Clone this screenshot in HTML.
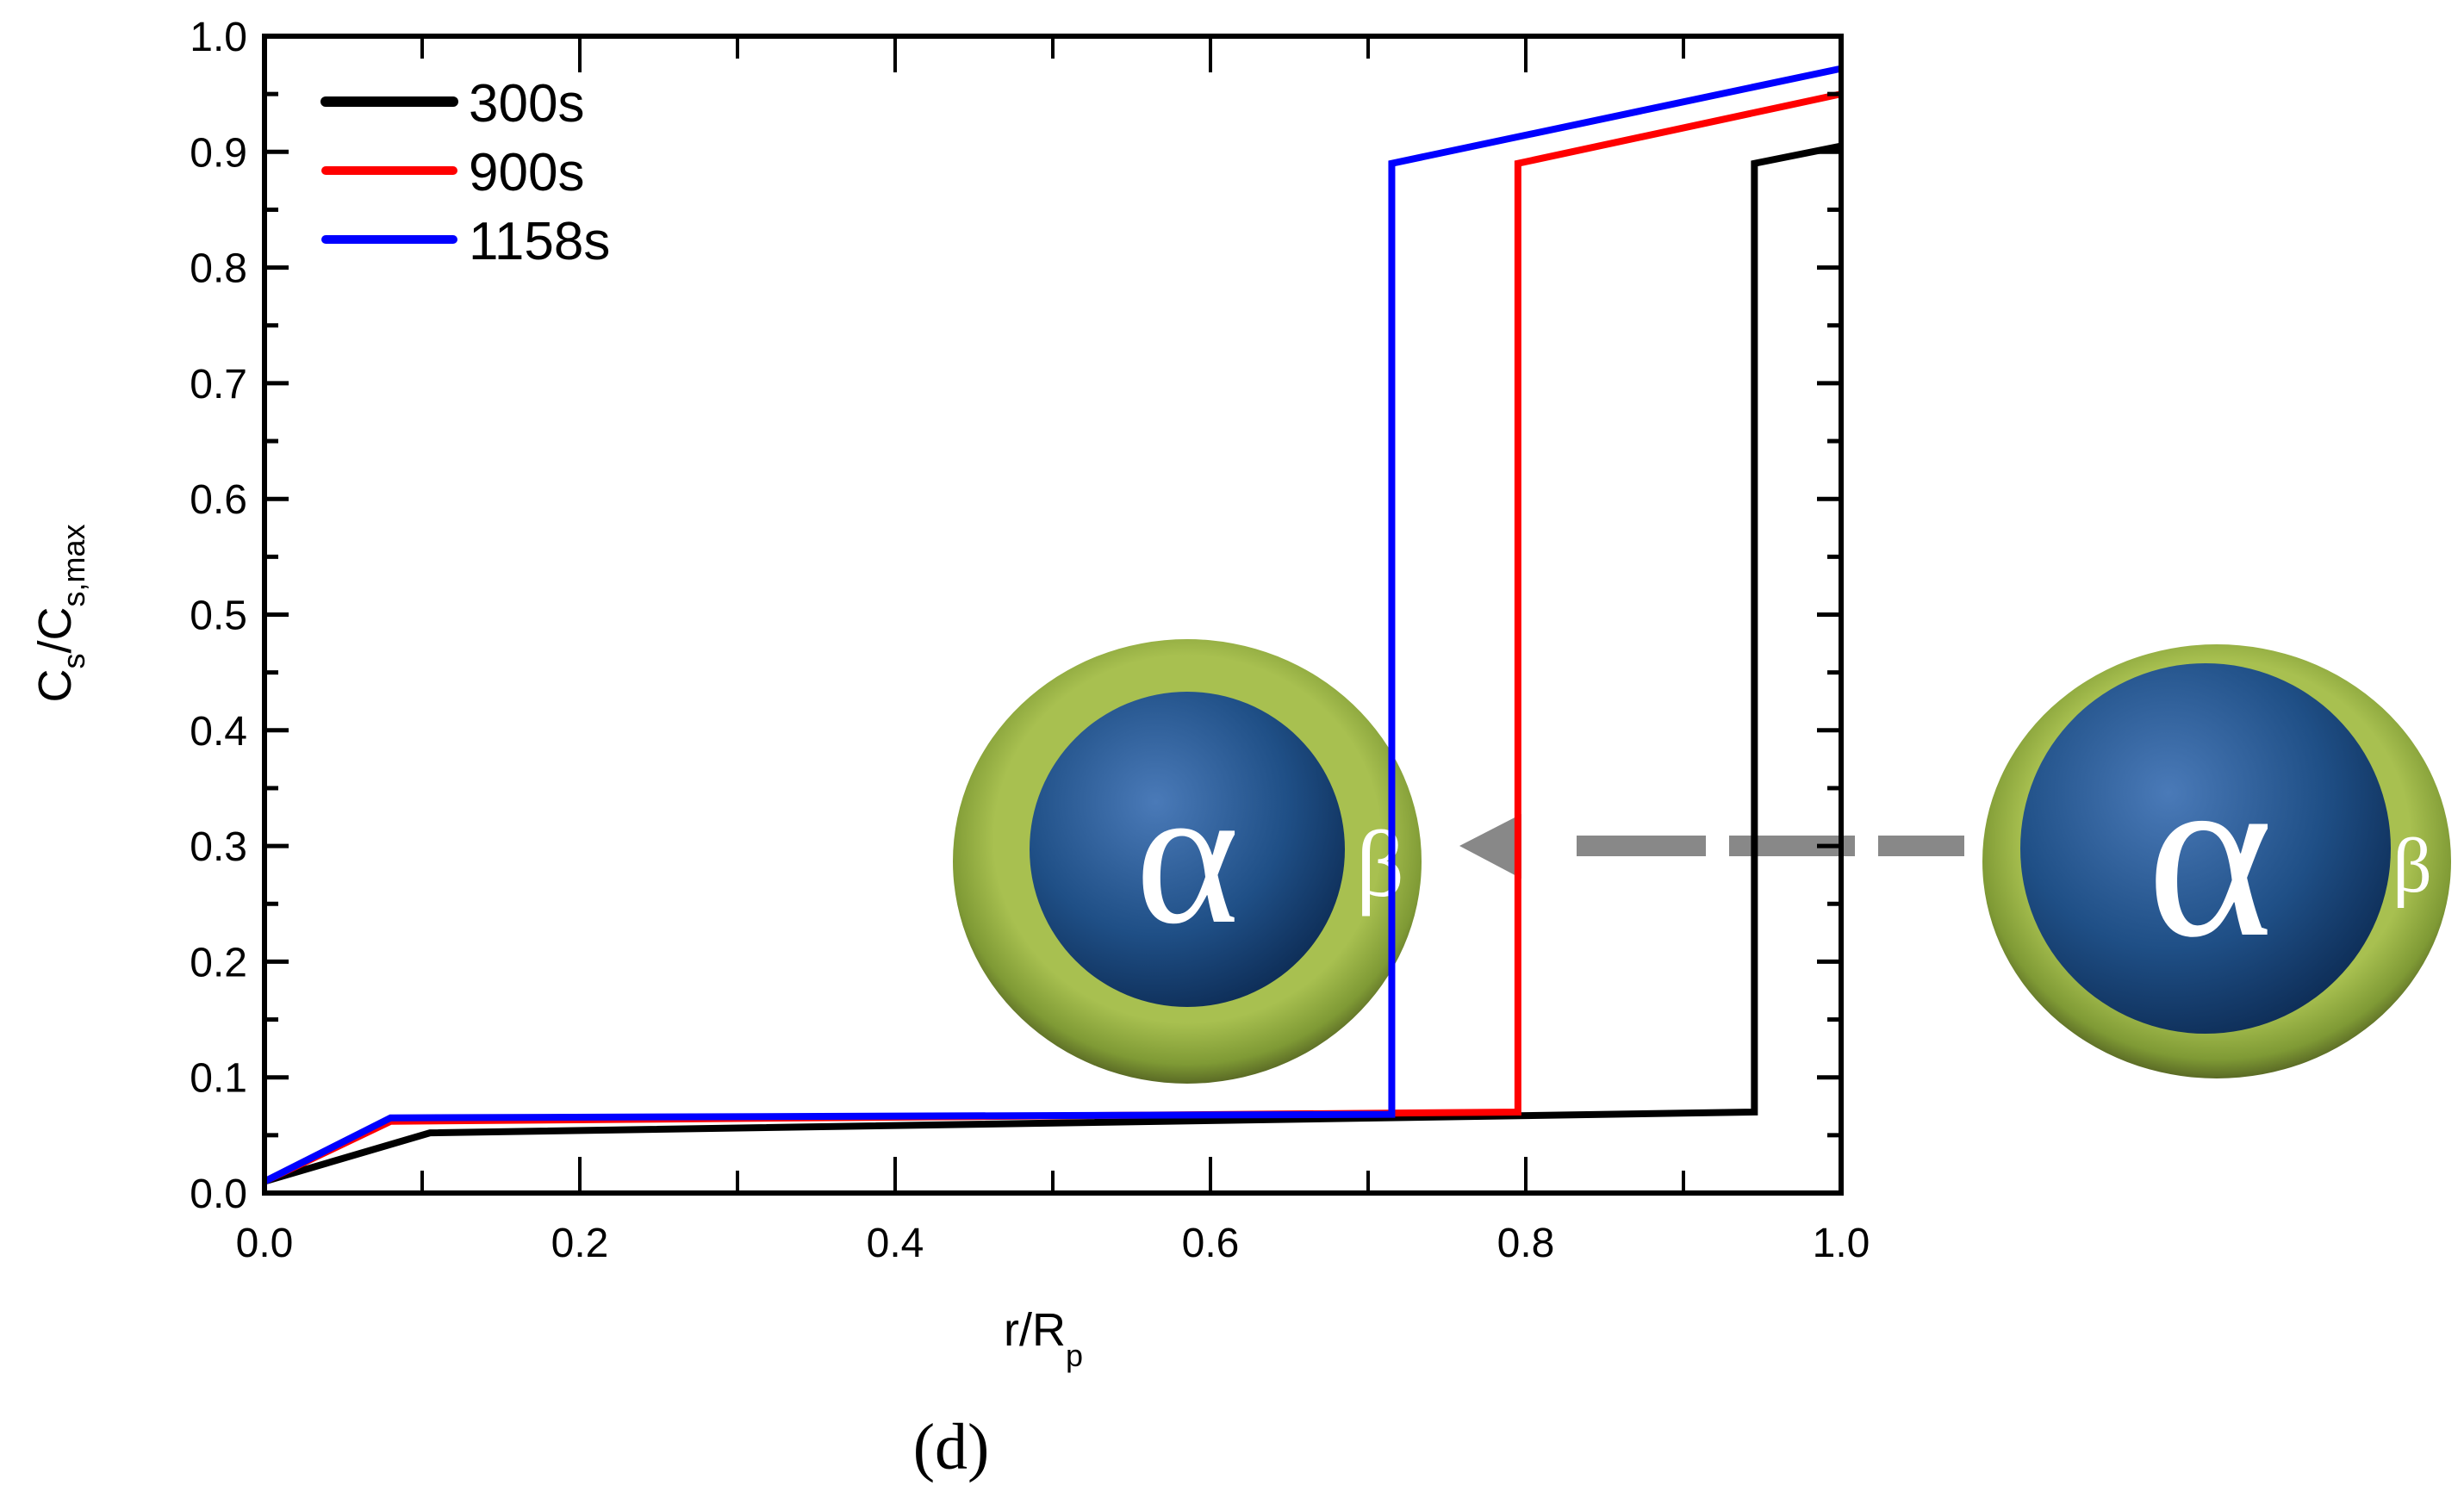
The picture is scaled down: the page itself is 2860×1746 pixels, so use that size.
<!DOCTYPE html>
<html><head><meta charset="utf-8"><style>
html,body{margin:0;padding:0;background:#fff;}
svg{display:block;font-family:"Liberation Sans",sans-serif;}
</style></head><body>
<svg id="chart" width="2860" height="1746" viewBox="0 0 2860 1746" xmlns="http://www.w3.org/2000/svg">
<defs>
<radialGradient id="shell" cx="50%" cy="45%" r="55%">
<stop offset="0.75" stop-color="#a8c050"/><stop offset="0.92" stop-color="#7f9a35"/><stop offset="1" stop-color="#5a6a25"/>
</radialGradient>
<radialGradient id="core" cx="40%" cy="35%" r="70%">
<stop offset="0" stop-color="#4a7ab8"/><stop offset="0.6" stop-color="#1f4f86"/><stop offset="1" stop-color="#0d2c55"/>
</radialGradient>
</defs>
<g id="decor">
<ellipse cx="1378" cy="1000" rx="272" ry="258" fill="url(#shell)"/>
<circle cx="1378" cy="986" r="183" fill="url(#core)"/>
<text x="1378" y="1070" font-family="Liberation Serif,serif" font-size="230" fill="#fff" text-anchor="middle">α</text>
<text x="1602" y="1040" font-family="Liberation Serif,serif" font-size="110" fill="#fff" text-anchor="middle">β</text>
<ellipse cx="2573" cy="1000" rx="272" ry="252" fill="url(#shell)"/>
<circle cx="2560" cy="985" r="215" fill="url(#core)"/>
<text x="2565" y="1085" font-family="Liberation Serif,serif" font-size="280" fill="#fff" text-anchor="middle">α</text>
<text x="2800" y="1035" font-family="Liberation Serif,serif" font-size="90" fill="#fff" text-anchor="middle">β</text>
<polygon points="1694,982 1766,945 1766,1020" fill="#888"/>
<rect x="1830" y="970" width="150" height="24" fill="#888"/>
<rect x="2007" y="970" width="146" height="24" fill="#888"/>
<rect x="2180" y="970" width="100" height="24" fill="#888"/>
</g>
<g id="plot"></g>
<text transform="translate(82,712) rotate(-90)" font-size="54" text-anchor="middle">C<tspan font-size="36" dy="16">s</tspan><tspan dy="-16">/C</tspan><tspan font-size="36" dy="16">s,max</tspan></text>
<text x="1165" y="1562" font-size="54">r/R<tspan font-size="36" dy="24">p</tspan></text>
<text x="1104" y="1705" font-family="Liberation Serif,serif" font-size="76" text-anchor="middle">(d)</text>
</svg>
<script>
const xTicks=[0,0.2,0.4,0.6,0.8,1.0];
const xTickLabels=["0.0","0.2","0.4","0.6","0.8","1.0"];
const yTicks=[0,0.1,0.2,0.3,0.4,0.5,0.6,0.7,0.8,0.9,1.0];
const yTickLabels=["0.0","0.1","0.2","0.3","0.4","0.5","0.6","0.7","0.8","0.9","1.0"];
const seriesNames=["300s","900s","1158s"];
const seriesColors=["#000000","#ff0000","#0000ff"];
const x300=[0,0.105,0.945,0.945,1.0];
const y300=[0.01,0.052,0.07,0.89,0.905];
const x900=[0,0.08,0.795,0.795,1.0];
const y900=[0.01,0.062,0.07,0.89,0.95];
const x1158=[0,0.08,0.715,0.715,1.0];
const y1158=[0.01,0.065,0.068,0.89,0.972];

const L=307,R=2137,T=42,B=1385;
const sx=v=>L+(v-0)/(1-0)*(R-L);
const sy=v=>B-(v-0)/(1-0)*(B-T);
const NS="http://www.w3.org/2000/svg";
const g=document.getElementById('plot');
function mk(tag,attrs){const e=document.createElementNS(NS,tag);for(const k in attrs)e.setAttribute(k,attrs[k]);g.appendChild(e);return e;}

const xs=[x300,x900,x1158],ys=[y300,y900,y1158];
const snames=['series-300s','series-900s','series-1158s'];
for(let s=0;s<3;s++){
  const p=mk('polyline',{points:xs[s].map((v,i)=>sx(v)+','+sy(ys[s][i])).join(' '),fill:'none',stroke:seriesColors[s],'stroke-width':8,'stroke-linejoin':'miter'});
  
  
}
const fr=mk('rect',{x:L,y:T,width:R-L,height:B-T,fill:'none',stroke:'#000','stroke-width':6});


for(let v=0;v<=1.0001;v+=0.1){
  const major=Math.abs(v*5-Math.round(v*5))<1e-6;
  const len=major?42:26;
  const t1=mk('line',{x1:sx(v),x2:sx(v),y1:B,y2:B-len,stroke:'#000','stroke-width':4});
  
  
  const t2=mk('line',{x1:sx(v),x2:sx(v),y1:T,y2:T+len,stroke:'#000','stroke-width':4});
  
  
}
xTicks.forEach((v,i)=>{
  const t=mk('text',{x:sx(v),y:B+74,'font-size':48,'text-anchor':'middle'});
  t.textContent=xTickLabels[i];
  
  
});
for(let k=0;k<=20;k++){
  const v=k*0.05;const major=k%2===0;const len=major?28:16;
  const t1=mk('line',{x1:L,x2:L+len,y1:sy(v),y2:sy(v),stroke:'#000','stroke-width':5});
  
  
  const t2=mk('line',{x1:R,x2:R-len,y1:sy(v),y2:sy(v),stroke:'#000','stroke-width':5});
  
  
}
yTicks.forEach((v,i)=>{
  const t=mk('text',{x:L-20,y:sy(v)+17,'font-size':48,'text-anchor':'end'});
  t.textContent=yTickLabels[i];
  
  
});
const legY=[118,198,278];
seriesNames.forEach((n,i)=>{
  const ln=mk('line',{x1:378,x2:526,y1:legY[i],y2:legY[i],stroke:seriesColors[i],'stroke-width':i===0?12:10,'stroke-linecap':'round'});
  
  
  const t=mk('text',{x:544,y:legY[i]+23,'font-size':62});
  t.textContent=n;
  
  
});
</script>
</body></html>
